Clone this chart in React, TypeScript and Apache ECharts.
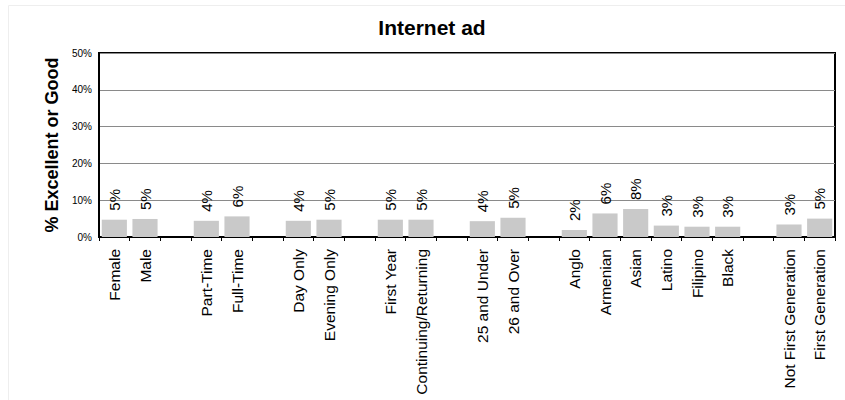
import React, { useEffect, useRef } from "react";
import * as echarts from "echarts";

// Empty strings are spacer slots between the demographic groups.
const categories: string[] = [
  "Female", "Male", "",
  "Part-Time", "Full-Time", "",
  "Day Only", "Evening Only", "",
  "First Year", "Continuing/Returning", "",
  "25 and Under", "26 and Over", "",
  "Anglo", "Armenian", "Asian", "Latino", "Filipino", "Black", "",
  "Not First Generation", "First Generation",
];

// Percent rating the Internet ad "Excellent or Good" (null = spacer).
const percentGood: (number | null)[] = [
  4.7, 4.9, null,
  4.4, 5.6, null,
  4.4, 4.7, null,
  4.7, 4.7, null,
  4.3, 5.2, null,
  1.9, 6.4, 7.6, 3.1, 2.8, 2.8, null,
  3.4, 5.0,
];

const yTicks = { min: 0, max: 50, interval: 10 };

const FONT = "'Liberation Sans', Arial, sans-serif";

export default function App() {
  const ref = useRef<HTMLDivElement>(null);

  useEffect(() => {
    if (!ref.current) return;
    const chart = echarts.init(ref.current, undefined, { renderer: "svg" });
    chart.setOption({
      animation: false,
      backgroundColor: "#ffffff",
      textStyle: { fontFamily: FONT },
      title: {
        text: "Internet ad",
        left: 432,
        top: 17,
        textAlign: "center",
        padding: 0,
        textStyle: {
          fontFamily: FONT,
          fontSize: 21,
          fontWeight: "bold",
          color: "#000",
        },
      },
      graphic: [
        {
          type: "rect",
          shape: { x: 8.5, y: 5.5, width: 900, height: 500 },
          style: { fill: "none", stroke: "#eeeeee", lineWidth: 1 },
          silent: true,
        },
      ],
      grid: {
        left: 99,
        right: 10,
        top: 53,
        bottom: 163,
        show: true,
        borderColor: "#000",
        borderWidth: 2,
        backgroundColor: "transparent",
      },
      xAxis: {
        type: "category",
        data: categories,
        boundaryGap: true,
        axisLine: { show: true, lineStyle: { color: "#000", width: 2 } },
        axisTick: {
          show: true,
          interval: 0,
          length: 4,
          lineStyle: { color: "#000", width: 1 },
        },
        axisLabel: {
          interval: 0,
          rotate: 90,
          margin: 12,
          fontSize: 15.5,
          color: "#000",
          fontFamily: FONT,
        },
        splitLine: { show: false },
      },
      yAxis: {
        type: "value",
        min: yTicks.min,
        max: yTicks.max,
        interval: yTicks.interval,
        name: "% Excellent or Good",
        nameLocation: "middle",
        nameGap: 37,
        nameTextStyle: {
          fontSize: 18,
          fontWeight: "bold",
          color: "#000",
          fontFamily: FONT,
        },
        axisLine: { show: true, lineStyle: { color: "#000", width: 2 } },
        axisTick: { show: false },
        axisLabel: {
          formatter: "{value}%",
          fontSize: 10,
          color: "#000",
          margin: 7,
          fontFamily: FONT,
        },
        splitLine: { show: true, lineStyle: { color: "#8a8a8a", width: 1 } },
      },
      series: [
        {
          type: "bar",
          data: percentGood,
          barCategoryGap: "18%",
          itemStyle: { color: "#c9c9c9" },
          label: {
            show: true,
            position: "top",
            rotate: 90,
            align: "left",
            verticalAlign: "middle",
            distance: 9,
            fontSize: 15,
            color: "#000",
            fontFamily: FONT,
            formatter: (p: any) =>
              p.value == null ? "" : `${Math.round(p.value)}%`,
          },
        },
      ],
    });
    return () => chart.dispose();
  }, []);

  return (
    <div
      ref={ref}
      style={{ position: "absolute", left: 0, top: 0, width: 845, height: 400 }}
    />
  );
}
